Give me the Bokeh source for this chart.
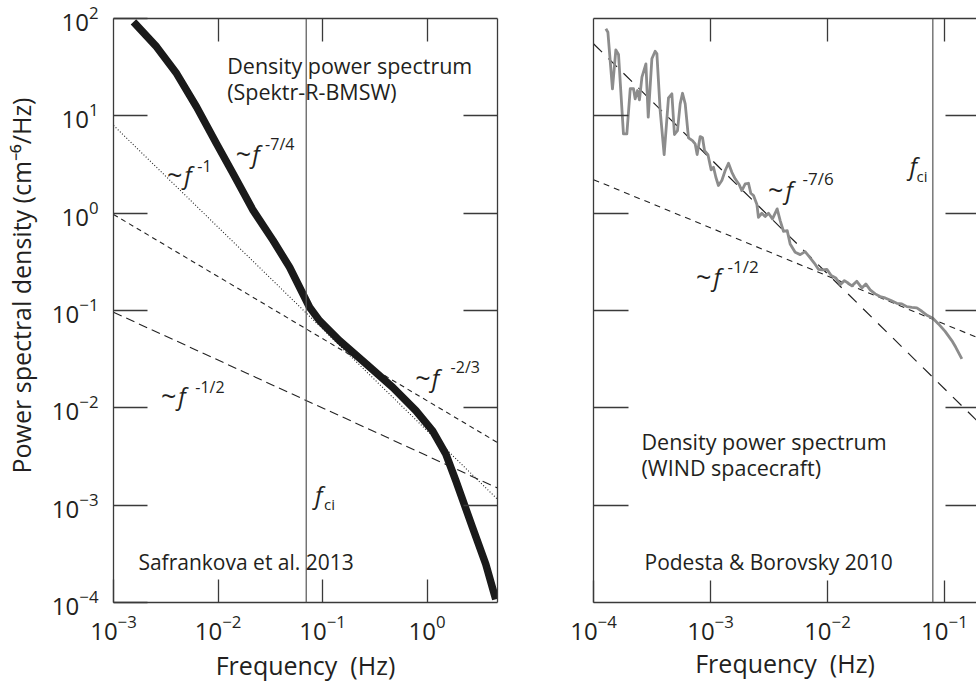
import math
from bokeh.plotting import figure
from bokeh.models import Label, LogAxis, FixedTicker, Span
from bokeh.layouts import row
from bokeh.embed import file_html
from bokeh.resources import INLINE

# ---------------- data ----------------
# Left panel: Safrankova et al. 2013, Spektr-R BMSW density spectrum (log10 values)
spektr_log_f = [-2.809, -2.587, -2.396, -2.205, -2.014, -1.855, -1.664, -1.473, -1.315,
                -1.124, -1.029, -0.838, -0.583, -0.328, -0.106, 0.053, 0.180, 0.276,
                0.435, 0.562, 0.657]
spektr_log_psd = [1.965, 1.708, 1.434, 1.091, 0.714, 0.405, 0.028, -0.281, -0.556,
                  -0.967, -1.104, -1.310, -1.549, -1.790, -2.030, -2.236, -2.475, -2.750,
                  -3.230, -3.607, -3.967]

# Right panel: Podesta & Borovsky 2010, WIND density spectrum (log10 values)
wind_log_f = [-3.894, -3.877, -3.838, -3.809, -3.786, -3.744, -3.715, -3.686, -3.658, -3.644,
              -3.624, -3.607, -3.586, -3.552, -3.532, -3.501, -3.473, -3.458, -3.430, -3.396,
              -3.359, -3.330, -3.308, -3.282, -3.259, -3.239, -3.216, -3.188, -3.154, -3.131,
              -3.114, -3.088, -3.068, -3.051, -3.022, -2.994, -2.974, -2.954, -2.932, -2.903,
              -2.874, -2.846, -2.817, -2.789, -2.755, -2.732, -2.703, -2.675, -2.655, -2.632,
              -2.603, -2.590, -2.561, -2.532, -2.504, -2.470, -2.430, -2.404, -2.376, -2.344,
              -2.319, -2.276, -2.233, -2.191, -2.156, -2.111, -2.077, -2.043, -2.005, -1.968,
              -1.928, -1.891, -1.855, -1.821, -1.791, -1.749, -1.706, -1.672, -1.635, -1.592,
              -1.550, -1.507, -1.456, -1.407, -1.364, -1.321, -1.279, -1.236, -1.193, -1.145,
              -1.099, -1.051, -0.994, -0.937, -0.903, -0.851]
wind_log_psd = [1.894, 1.859, 1.278, 1.678, 1.630, 0.815, 0.815, 1.278, 1.278, 1.175,
                1.260, 1.164, 1.397, 1.534, 0.986, 1.586, 1.664, 1.637, 1.054, 0.602,
                1.185, 1.226, 0.808, 0.849, 1.123, 1.232, 1.123, 0.774, 0.746, 0.712,
                0.602, 0.787, 0.774, 0.643, 0.602, 0.445, 0.472, 0.369, 0.284, 0.335,
                0.438, 0.513, 0.420, 0.353, 0.294, 0.232, 0.301, 0.307, 0.205, 0.181,
                0.088, -0.042, -0.001, -0.035, -0.001, -0.059, 0.044, -0.076, -0.186, -0.179,
                -0.316, -0.402, -0.426, -0.395, -0.446, -0.515, -0.577, -0.583, -0.577, -0.641,
                -0.665, -0.734, -0.693, -0.720, -0.747, -0.700, -0.768, -0.727, -0.788, -0.829,
                -0.857, -0.871, -0.898, -0.926, -0.932, -0.960, -0.967, -0.973, -1.008, -1.052,
                -1.080, -1.138, -1.214, -1.309, -1.378, -1.497]

# Power-law guide lines (end points: frequency in Hz, PSD)
left_guide_f = [1e-3, 4.72]
guide_f1_psd = [7.98, 1.15e-3]      # ~f^-1  (dotted)
guide_f23_psd = [0.97, 4.4e-3]      # ~f^-2/3 (short dashes)
guide_f12_psd = [0.096, 1.5e-3]     # ~f^-1/2 (dashes)

right_guide_f = [1e-4, 0.188]
guide_f76_psd = [55.0, 7.46e-3]     # ~f^-7/6 (long dashes)
guide_wind12_psd = [2.21, 0.0531]   # ~f^-1/2 (short dashes)

fci_left = 0.0698
fci_right = 0.0796

left_xticks = [1e-3, 1e-2, 1e-1, 1e0]
right_xticks = [1e-4, 1e-3, 1e-2, 1e-1]
yticks = [1e2, 1e1, 1e0, 1e-1, 1e-2, 1e-3, 1e-4]

# ---------------- layout constants ----------------
FONT = "Open Sans"
TXT = "#231f20"
AX = "#3a3a3a"
H = 684
T, B = 18, 602
YMIN, YMAX = 1e-4, 1e2
W1, L1, R1 = 517, 112, 497
X1MIN, X1MAX = 1e-3, 4.72
W2, L2, R2 = 459, 593, 976
X2MIN, X2MAX = 1e-4, 0.188


def ypx(py):
    lo, hi = math.log10(YMIN), math.log10(YMAX)
    return 10 ** (hi - (py - T) / (B - T) * (hi - lo))


def xpx(px, left):
    if left:
        L, R, a, b = L1, R1, X1MIN, X1MAX
    else:
        L, R, a, b = L2, R2, X2MIN, X2MAX
    la, lb = math.log10(a), math.log10(b)
    return 10 ** (la + (px - L) / (R - L) * (lb - la))


def txt(p, left, px, py, text, size, align="left", style="normal"):
    p.add_layout(Label(x=xpx(px, left), y=ypx(py), text=text, text_font=FONT,
                       text_font_size=f"{size}px", text_align=align,
                       text_baseline="alphabetic", text_font_style=style, text_color=TXT))


def style_axis(ax, ticks, tick_in, line=True, labels=False, standoff=0):
    ax.ticker = FixedTicker(ticks=ticks, minor_ticks=[])
    ax.major_tick_in = tick_in
    ax.major_tick_out = 0
    ax.minor_tick_in = 0
    ax.minor_tick_out = 0
    if labels:
        ax.major_label_text_font = FONT
        ax.major_label_text_font_size = "24px"
        ax.major_label_text_color = TXT
        ax.major_label_standoff = standoff
    else:
        ax.major_label_text_font_size = "1px"
        ax.major_label_text_alpha = 0
        ax.major_label_standoff = 0
    ax.axis_line_color = AX if line else None
    ax.axis_line_width = 1.3
    ax.major_tick_line_color = AX
    ax.major_tick_line_width = 1.3
    ax.axis_label_text_font = FONT
    ax.axis_label_text_font_size = "25px"
    ax.axis_label_text_font_style = "normal"
    ax.axis_label_text_color = TXT


def make_fig(width, xr, mbl, mbr):
    p = figure(width=width, height=H, x_axis_type="log", y_axis_type="log",
               x_range=xr, y_range=(YMIN, YMAX), output_backend="svg",
               toolbar_location=None, min_border_left=mbl, min_border_right=mbr,
               min_border_top=T, min_border_bottom=H - B)
    p.outline_line_color = None
    p.grid.visible = False
    p.background_fill_color = "white"
    p.border_fill_color = "white"
    return p


def pow_label(p, left, tilde_r, f_l, base, exp_l, exp_base, exp, exp_size):
    txt(p, left, tilde_r, base, "~", 27, align="right")
    txt(p, left, f_l, base, "f", 24, style="italic")
    txt(p, left, exp_l, exp_base, exp, exp_size)


# ---------------- left panel ----------------
p1 = make_fig(W1, (X1MIN, X1MAX), L1, W1 - R1)
inner_y = yticks[1:-1]
style_axis(p1.xaxis[0], left_xticks, 23, labels=True, standoff=12)
p1.xaxis[0].axis_label = "Frequency\u00a0 (Hz)"
p1.xaxis[0].axis_label_standoff = 5
style_axis(p1.yaxis[0], yticks, 34, labels=True, standoff=15)
# leading em spaces lift the visible title above the frame centre, as in the original
p1.yaxis[0].axis_label = "\u2003\u2003Power spectral density (cm\u207b\u2076/Hz)"
p1.yaxis[0].axis_label_standoff = 11
top1 = LogAxis()
style_axis(top1, left_xticks[1:], 23)
p1.add_layout(top1, "above")
right1 = LogAxis()
style_axis(right1, inner_y, 34)
p1.add_layout(right1, "right")

p1.add_layout(Span(location=fci_left, dimension="height", line_color="#555555", line_width=1.2))
p1.line(left_guide_f, guide_f1_psd, line_color="#222222", line_width=1.1, line_dash="1 2")
p1.line(left_guide_f, guide_f23_psd, line_color="#222222", line_width=1.1, line_dash="5 4")
p1.line(left_guide_f, guide_f12_psd, line_color="#222222", line_width=1.1, line_dash="9 5")
p1.line([10 ** v for v in spektr_log_f], [10 ** v for v in spektr_log_psd],
        line_color="#1a1a1a", line_width=7.5, line_join="round")

txt(p1, True, 226, 65, "Density power spectrum", 21.5)
txt(p1, True, 226, 91, "(Spektr-R-BMSW)", 21.5)
txt(p1, True, 137, 561.5, "Safrankova et al. 2013", 21)

pow_label(p1, True, 250, 251, 153, 264, 143, "-7/4", 16)
pow_label(p1, True, 181, 183, 173.5, 196, 165, "-1", 16)
pow_label(p1, True, 430, 431, 377, 450, 366.5, "-2/3", 16)
pow_label(p1, True, 175, 177, 395, 194, 386, "-1/2", 16)
txt(p1, True, 314, 494, "f", 24, style="italic")
txt(p1, True, 323, 503, "ci", 15)

# ---------------- right panel ----------------
p2 = make_fig(W2, (X2MIN, X2MAX), L2 - W1, W2 - (R2 - W1))
style_axis(p2.xaxis[0], right_xticks, 22, labels=True, standoff=12)
p2.xaxis[0].axis_label = "Frequency\u00a0 (Hz)"
p2.xaxis[0].axis_label_standoff = 3
style_axis(p2.yaxis[0], inner_y, 35)
top2 = LogAxis()
style_axis(top2, right_xticks[1:], 23)
p2.add_layout(top2, "above")
right2 = LogAxis()
style_axis(right2, inner_y, 31, line=False)
p2.add_layout(right2, "right")

p2.add_layout(Span(location=fci_right, dimension="height", line_color="#555555", line_width=1.2))
p2.line(right_guide_f, guide_wind12_psd, line_color="#222222", line_width=1.1, line_dash="6 5")
p2.line(right_guide_f, guide_f76_psd, line_color="#222222", line_width=1.2, line_dash="12 9")
p2.line([10 ** v for v in wind_log_f], [10 ** v for v in wind_log_psd],
        line_color="#8c8c8c", line_width=2.8, line_join="round")

txt(p2, False, 641, 441, "Density power spectrum", 21.5)
txt(p2, False, 641, 467, "(WIND spacecraft)", 21.5)
txt(p2, False, 644, 561.5, "Podesta & Borovsky 2010", 21)

pow_label(p2, False, 783, 785, 189, 802, 178, "-7/6", 17)
pow_label(p2, False, 711, 713, 276, 727, 266, "-1/2", 17)
txt(p2, False, 909, 165, "f", 24, style="italic")
txt(p2, False, 916, 175, "ci", 15)

layout = row(p1, p2)
open("out.html", "w").write(file_html(layout, INLINE))
